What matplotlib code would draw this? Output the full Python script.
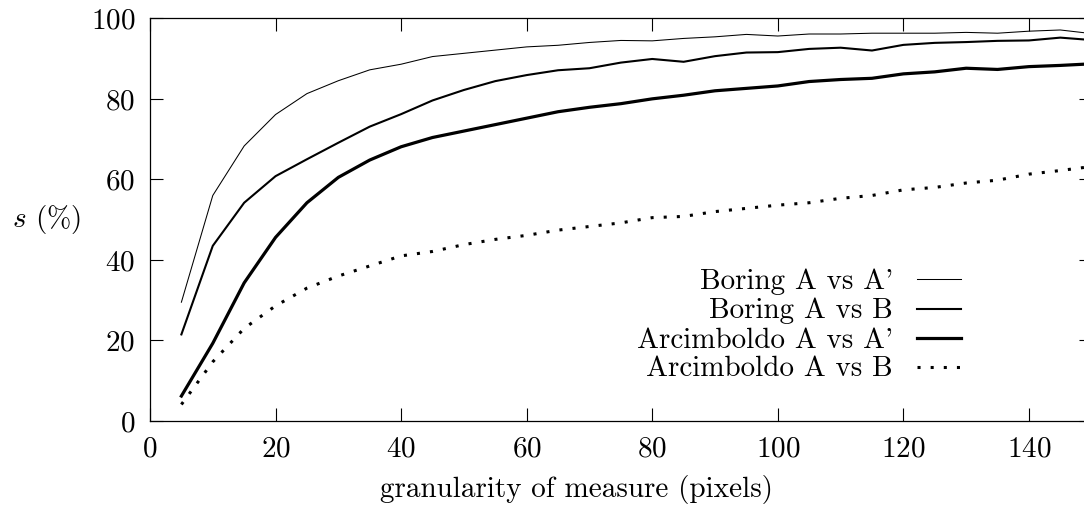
import matplotlib
matplotlib.use("Agg")
import matplotlib.pyplot as plt

# Granularity of the measure (pixels)
granularity = [5, 10, 15, 20, 25, 30, 35, 40, 45, 50,
               55, 60, 65, 70, 75, 80, 85, 90, 95, 100,
               105, 110, 115, 120, 125, 130, 135, 140, 145, 150]

# Similarity s (%) for each comparison
boring_a_vs_a_prime = [29.5, 56.0, 68.3, 76.1, 81.3, 84.5, 87.2, 88.6, 90.5, 91.3,
                       92.1, 92.9, 93.3, 94.0, 94.5, 94.4, 95.0, 95.4, 96.0, 95.6,
                       96.1, 96.1, 96.3, 96.3, 96.3, 96.5, 96.3, 96.8, 97.1, 96.2]
boring_a_vs_b = [21.5, 43.5, 54.2, 60.8, 65.0, 69.1, 73.1, 76.2, 79.6, 82.2,
                 84.4, 85.9, 87.1, 87.6, 89.0, 89.9, 89.2, 90.6, 91.5, 91.6,
                 92.4, 92.7, 92.0, 93.4, 93.9, 94.1, 94.4, 94.5, 95.2, 94.6]
arcimboldo_a_vs_a_prime = [6.2, 19.3, 34.3, 45.6, 54.2, 60.5, 64.8, 68.1, 70.4, 72.0,
                           73.6, 75.2, 76.8, 77.9, 78.8, 80.0, 80.9, 82.0, 82.6, 83.2,
                           84.3, 84.8, 85.1, 86.2, 86.7, 87.6, 87.3, 88.0, 88.3, 88.7]
arcimboldo_a_vs_b = [4.1, 14.7, 23.0, 28.6, 33.0, 36.0, 38.5, 41.0, 42.1, 43.8,
                     45.1, 46.1, 47.4, 48.3, 49.2, 50.5, 50.8, 52.0, 52.8, 53.6,
                     54.2, 55.3, 56.0, 57.4, 58.0, 59.1, 59.8, 61.3, 62.2, 63.2]

series_labels = ["Boring A vs A'", "Boring A vs B",
                 "Arcimboldo A vs A'", "Arcimboldo A vs B"]
x_ticks = [0, 20, 40, 60, 80, 100, 120, 140]
y_ticks = [0, 20, 40, 60, 80, 100]

plt.rcParams["font.family"] = "cmr10"
plt.rcParams["mathtext.fontset"] = "cm"
plt.rcParams["axes.formatter.use_mathtext"] = True

FS = 21

fig = plt.figure(figsize=(10.84, 5.16), dpi=100)
W, H = 1084.0, 516.0
ax_left, ax_right, ax_top, ax_bottom = 150.0, 1091.7, 18.3, 421.0
ax = fig.add_axes([ax_left / W, 1 - ax_bottom / H,
                   (ax_right - ax_left) / W, (ax_bottom - ax_top) / H])

dotted = (0, (1, 3.3))
styles = [
    dict(color="black", lw=0.75, ls="-"),
    dict(color="black", lw=1.5, ls="-"),
    dict(color="black", lw=2.3, ls="-"),
    dict(color="black", lw=2.2, ls=dotted),
]
all_series = [boring_a_vs_a_prime, boring_a_vs_b,
              arcimboldo_a_vs_a_prime, arcimboldo_a_vs_b]

for values, st in zip(all_series, styles):
    ax.plot(granularity, values, color=st["color"], lw=st["lw"],
            ls=st["ls"], solid_joinstyle="miter", dash_capstyle="butt")

ax.set_xlim(0, 150)
ax.set_ylim(0, 100)
ax.set_xticks(x_ticks)
ax.set_yticks(y_ticks)
ax.tick_params(direction="in", length=9.6, width=0.8, top=True, right=True,
               labelsize=FS, colors="black")
ax.tick_params(axis="y", pad=10.5)
ax.tick_params(axis="x", pad=11)
for sp in ax.spines.values():
    sp.set_linewidth(0.9)
    sp.set_color("black")

ax.set_xlabel("granularity of measure (pixels)", fontsize=FS)
ax.xaxis.set_label_coords((576 - ax_left) / (ax_right - ax_left),
                          (ax_bottom - 489) / (ax_bottom - ax_top))
ax.xaxis.label.set_va("center")
ax.set_ylabel("$s$ (%)", fontsize=FS, rotation=0, ha="center", va="center")
ax.yaxis.set_label_coords((47 - ax_left) / (ax_right - ax_left), 0.5)

# Key: right-aligned text followed by a short line sample
def fx(px):
    return (px - ax_left) / (ax_right - ax_left)

def fy(py):
    return (ax_bottom - py) / (ax_bottom - ax_top)

row_y = [279.3, 308.5, 337.5, 366.5]
for label, st, yy in zip(series_labels, styles, row_y):
    ax.text(fx(893), fy(yy + 10), label, transform=ax.transAxes,
            ha="right", va="baseline", fontsize=FS)
    ax.plot([fx(917), fx(961)], [fy(yy), fy(yy)], transform=ax.transAxes,
            color=st["color"], lw=st["lw"], ls=st["ls"], dash_capstyle="butt",
            clip_on=False)

fig.savefig("out.png", dpi=100)
